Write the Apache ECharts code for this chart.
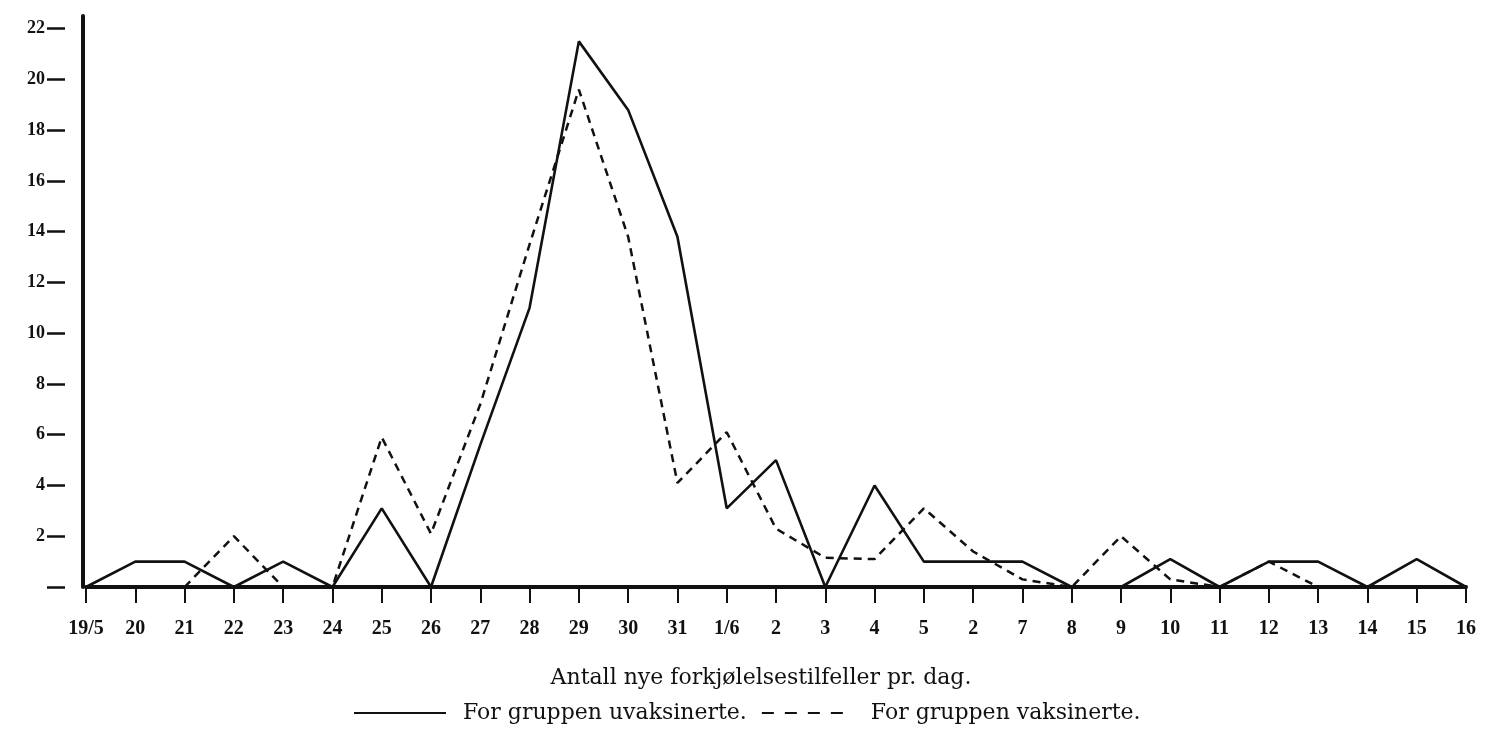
<!DOCTYPE html>
<html>
<head>
<meta charset="utf-8">
<script src="https://cdn.jsdelivr.net/npm/echarts@6/dist/echarts.min.js"></script>
<style>html,body{margin:0;padding:0;background:#fff;}#c{width:1500px;height:738px;}</style>
</head>
<body>
<div id="c"></div>
<script>
const categories = ['19/5','20','21','22','23','24','25','26','27','28','29','30','31','1/6','2','3','4','5','2','7','8','9','10','11','12','13','14','15','16'];
const uvaksinerte = [0,1,1,0,1,0,3.1,0,5.6,11,21.5,18.8,13.8,3.1,5,0,4,1,1,1,0,0,1.1,0,1,1,0,1.1,0];
const vaksinerte = [null,null,0,2,0,0,5.9,2.1,7.2,13.5,19.6,13.8,4.1,6.1,2.3,1.15,1.1,3.1,1.4,0.3,0,2,0.3,0,1,0,null,null,null];
const yTicks = [0,2,4,6,8,10,12,14,16,18,20,22];
const titleText = 'Antall nye forkjølelsestilfeller pr. dag.';
const nameUvak = 'For gruppen uvaksinerte.';
const nameVak = 'For gruppen vaksinerte.';

const ink = '#111';
const chart = echarts.init(document.getElementById('c'));
chart.setOption({
  animation: false,
  backgroundColor: '#fff',
  title: {
    text: titleText,
    left: 756, top: 662, textAlign: 'center',
    textStyle: {fontFamily: 'DejaVu Serif', fontWeight: 'normal', fontSize: 22, color: ink}
  },
  legend: {
    left: 348, top: 697,
    itemWidth: 92, itemHeight: 14, itemGap: 14,
    itemStyle: {opacity: 0},
    textStyle: {fontFamily: 'DejaVu Serif', fontSize: 22, color: ink, padding: [0,0,0,12]},
    data: [
      {name: nameUvak, lineStyle: {type: 'solid', width: 2}, itemStyle: {opacity: 0}},
      {name: nameVak, lineStyle: {type: [12, 11], width: 2}, itemStyle: {opacity: 0}}
    ]
  },
  grid: {left: 86, right: 34, top: 16, bottom: 151},
  xAxis: [
    {
      type: 'category', data: categories, boundaryGap: false,
      axisLine: {show: true, lineStyle: {color: ink, width: 4}},
      axisTick: {show: false}, axisLabel: {show: false}, splitLine: {show: false}
    },
    {
      type: 'category', data: categories, boundaryGap: false, position: 'bottom', offset: 11,
      axisLine: {show: false},
      axisTick: {show: true, length: 16, lineStyle: {color: ink, width: 2}},
      axisLabel: {show: true, margin: 21, interval: 0, color: ink, fontFamily: 'Liberation Serif', fontWeight: 'bold', fontSize: 20},
      splitLine: {show: false}
    }
  ],
  yAxis: [
    {
      type: 'value', min: 0, max: 22.5, offset: 3,
      axisLine: {show: true, lineStyle: {color: ink, width: 4}},
      axisTick: {show: false}, axisLabel: {show: false}, splitLine: {show: false}
    },
    {
      type: 'value', min: 0, max: 22.5, position: 'left', offset: 21,
      axisLine: {show: false},
      axisTick: {show: true, length: 18, customValues: yTicks, lineStyle: {color: ink, width: 2.5}},
      axisLabel: {show: true, margin: 20, customValues: yTicks, color: ink, fontFamily: 'Liberation Serif', fontWeight: 'bold', fontSize: 18,
        formatter: v => v === 0 ? '' : String(v)},
      splitLine: {show: false}
    }
  ],
  series: [
    {
      name: nameVak, type: 'line', data: vaksinerte, symbol: 'none', z: 2,
      lineStyle: {color: ink, width: 2.5, type: [8, 6]}, itemStyle: {color: ink}
    },
    {
      name: nameUvak, type: 'line', data: uvaksinerte, symbol: 'none', z: 3,
      lineStyle: {color: ink, width: 2.6, type: 'solid'}, itemStyle: {color: ink}
    }
  ]
});
</script>
</body>
</html>
